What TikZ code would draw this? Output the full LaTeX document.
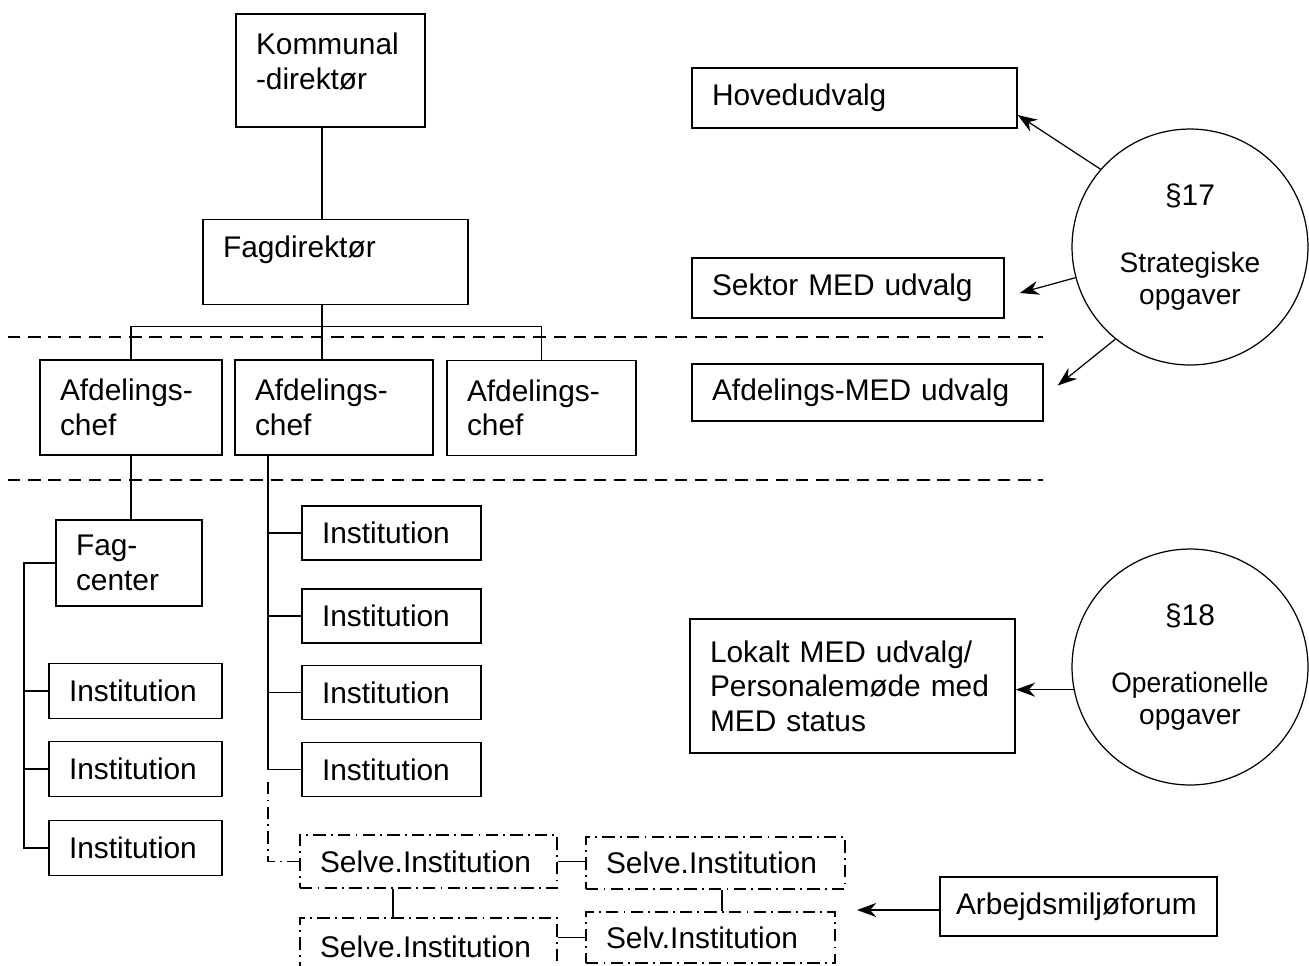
\documentclass[tikz,border=0pt]{standalone}
\usepackage{fontspec}
\setmainfont{Liberation Sans}
\usetikzlibrary{arrows.meta}

\tikzset{
    box/.style={draw, line width=.9pt, align=left, inner xsep=.4cm, inner ysep=0pt,
        font=\fontsize{17}{19.6}\selectfont},
    selvbox/.style={box, selvline},
    selvline/.style={dash pattern=on 7pt off 3pt on 1pt off 3pt},
    paragraf/.style={draw, circle, line width=.7pt, minimum size=4.72cm, align=center,
        inner sep=0pt, font=\fontsize{16}{18}\selectfont},
    link/.style={line width=.8pt},
    arr/.style={-{Stealth[length=11pt,width=8pt]}, line width=.7pt},
    sepline/.style={dash pattern=on 7pt off 4.5pt, line width=.8pt},
}

\begin{document}
\begin{tikzpicture}[x=0.02cm, y=-0.02cm]
    \useasboundingbox (0,0) rectangle (1309,965);
    % ledelse
    \node[box, text width=2.98cm, text height=23pt, text depth=41pt] (kom) at (330.5,70.5) {Kommunal\\-direktør};
    \node[box, text width=4.5cm, text height=22pt, text depth=26.6pt] (fag) at (335.5,262) {Fagdirektør};
    \node[box, text width=2.84cm, minimum height=1.9cm] (afd1) at (131,407.5) {Afdelings-\\chef};
    \node[box, text width=3.16cm, minimum height=1.9cm] (afd2) at (334,407.5) {Afdelings-\\chef};
    \node[box, text width=2.98cm, minimum height=1.9cm] (afd3) at (541.5,408) {Afdelings-\\chef};
    \coordinate (spine) at (322,0);
    \draw[link] (kom.south -| spine) -- (fag.north -| spine);
    \draw[link] (fag.south -| spine) -- (afd2.north -| spine);
    \draw[link] (afd1.north) -- ++(0,-33) -| (afd3.north);
    \draw[sepline] (8,337) -- (1043,337);
    \draw[sepline] (8,480) -- (1043,480);
    % fagcenter og institutioner
    \node[box, text width=2.12cm, minimum height=1.72cm] (fagc) at (129,563) {Fag-\\center};
    \draw[link] (afd1.south) -- (afd1.south |- fagc.north);
    \foreach \y [count=\i] in {691,769,848}
        \node[box, text width=2.66cm, minimum height=1.1cm] (linst\i) at (135.5,\y) {Institution};
    \coordinate (lbus) at (24,0);
    \draw[link] (fagc.west) -- (fagc.west -| lbus) -- (linst3.west -| lbus) -- (linst3.west);
    \foreach \i in {1,2}
        \draw[link] (linst\i.west -| lbus) -- (linst\i.west);
    \foreach \y [count=\i] in {533,616,692.5,769.5}
        \node[box, text width=2.78cm, minimum height=1.08cm] (rinst\i) at (391.5,\y) {Institution};
    \coordinate (rbus) at (268,0);
    \draw[link] (afd2.south -| rbus) -- (rinst4.west -| rbus) -- (rinst4.west);
    \foreach \i in {1,2,3}
        \draw[link] (rinst\i.west -| rbus) -- (rinst\i.west);
    % selvejende
    \node[selvbox, text width=4.34cm, minimum height=1.06cm] (selA) at (428.5,861.5) {Selve.Institution};
    \node[selvbox, text width=4.38cm, minimum height=1.04cm] (selB) at (715.5,863) {Selve.Institution};
    \node[selvbox, text width=4.34cm, minimum height=1.14cm] (selC) at (428.5,946.5) {Selve.Institution};
    \node[selvbox, text width=4.18cm, minimum height=1.02cm] (selD) at (710.5,937.5) {Selv.Institution};
    \draw[link, selvline] ([yshift=-.25cm]rinst4.west -| rbus) |- (selA.west);
    \draw[link] (selA.east) -- (selA.east -| selB.west);
    \draw[link] ([xshift=-.71cm]selA.south) -- ([xshift=-.71cm]selA.south |- selC.north);
    \draw[link] ([xshift=.13cm]selB.south) -- ([xshift=.13cm]selB.south |- selD.north);
    \draw[link] (selD.west -| selC.east) -- (selD.west);
    % MED
    \node[box, text width=5.7cm, minimum height=1.2cm] (hov) at (854.5,98) {Hovedudvalg};
    \node[box, text width=5.44cm, minimum height=1.2cm] (sek) at (848,288) {Sektor MED udvalg};
    \node[box, text width=6.22cm, minimum height=1.14cm] (amed) at (867.5,392.5) {Afdelings-MED udvalg};
    \node[box, text width=5.7cm, minimum height=2.68cm] (lok) at (852.5,686) {Lokalt MED udvalg/\\Personalemøde med\\MED status};
    \node[box, inner xsep=.32cm, text width=4.9cm, minimum height=1.18cm] (arb) at (1078.5,906.5) {Arbejdsmiljøforum};
    \node[paragraf] (p17) at (1190,247) {{\fontsize{17}{18}\selectfont §17}\\[20pt]Strategiske\\opgaver};
    \node[paragraf] (p18) at (1190,667) {{\fontsize{17}{18}\selectfont §18}\\[20pt]\scalebox{.94}[1]{Operationelle}\\opgaver};
    \draw[arr] (p17.139) -- ([yshift=-.34cm]hov.east);
    \draw[arr] (p17.195) -- ([xshift=.3cm,yshift=-.1cm]sek.east);
    \draw[arr] (p17.231) -- ([xshift=.28cm,yshift=.14cm]amed.east);
    \draw[arr] (p18.191) -- (p18.191 -| lok.east);
    \coordinate (arbtip) at (857,910);
    \draw[arr] (arbtip -| arb.west) -- (arbtip);
\end{tikzpicture}
\end{document}
